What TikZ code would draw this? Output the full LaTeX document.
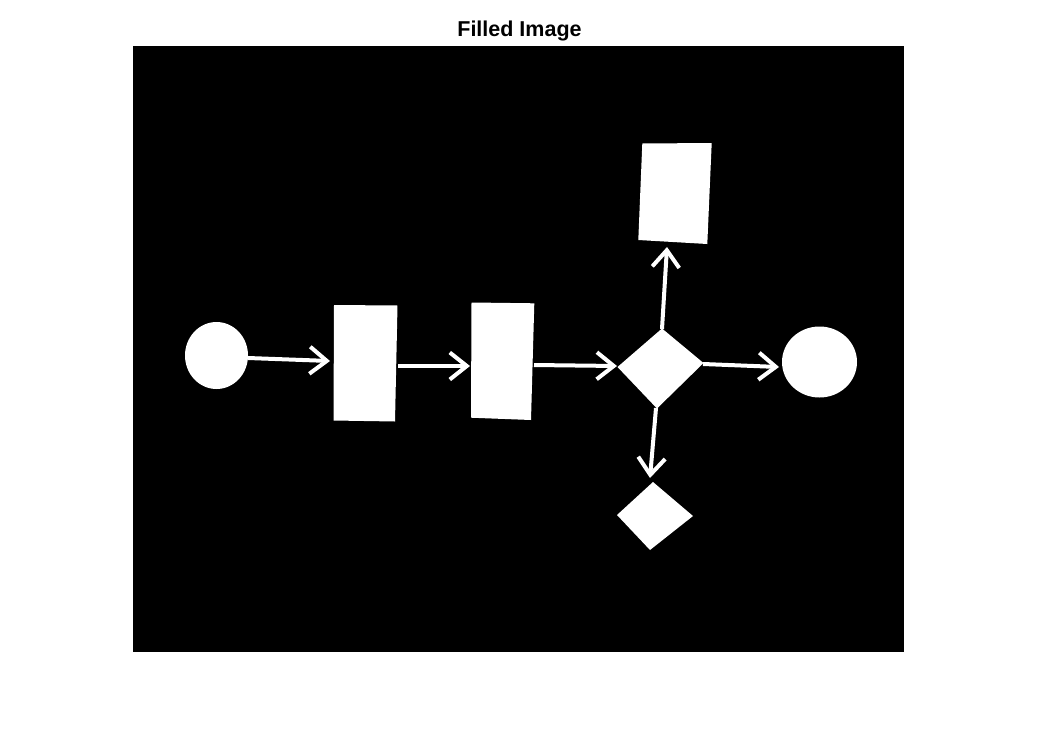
\documentclass[tikz,border=0pt]{standalone}
\usepackage{fontspec}
\setmainfont{Liberation Sans}
\usetikzlibrary{arrows.meta,shapes.geometric}
\begin{document}
\begin{tikzpicture}[x=1pt,y=-1pt,
  blob/.style={fill=white,draw=none},
  flow/.style={white,line width=4pt,-{Straight Barb[length=17pt,width=27pt]}}]
\useasboundingbox (0,0) rectangle (1039,755);
\fill[white] (0,0) rectangle (1039,755);
% axes image area
\fill[black] (133,46) rectangle (904,652);
\node[font=\bfseries\fontsize{21.5}{24}\selectfont] (title) at (519.5,31) {Filled Image};
% shapes
\node[blob,ellipse,minimum width=63pt,minimum height=67pt,inner sep=0pt] (c1) at (216.5,355.5) {};
\fill[white] (334,305) -- (397.5,305.5) -- (395,421.5) -- (333.5,420.5) -- cycle;
\fill[white] (471.5,302.5) -- (534.3,303.3) -- (531,420) -- (471,417.7) -- cycle;
\fill[white] (642.3,143.5) -- (711.7,143) -- (707.3,244) -- (638.3,240) -- cycle;
\fill[white] (617.5,367) -- (662,328.5) -- (703.5,363) -- (657,408.5) -- cycle;
\fill[white] (653,482) -- (693,516) -- (650,550) -- (617,515) -- cycle;
\node[blob,ellipse,minimum width=75pt,minimum height=71pt,inner sep=0pt] (c2) at (819.5,362) {};
% connector end points
\coordinate (c1e) at (248,358);
\coordinate (r1w) at (330,361);
\coordinate (r1e) at (398,366);
\coordinate (r2w) at (470,366);
\coordinate (r2e) at (534,365);
\coordinate (d1w) at (617,366);
\coordinate (d1n) at (662,329);
\coordinate (r3s) at (667,247);
\coordinate (d1e) at (703,364);
\coordinate (c2w) at (779,367);
\coordinate (d1s) at (656,408);
\coordinate (d2n) at (650,478);
% connectors
\draw[flow] (c1e) -- (r1w);
\draw[flow] (r1e) -- (r2w);
\draw[flow] (r2e) -- (d1w);
\draw[flow] (d1n) -- (r3s);
\draw[flow] (d1e) -- (c2w);
\draw[flow] (d1s) -- (d2n);
\end{tikzpicture}
\end{document}
